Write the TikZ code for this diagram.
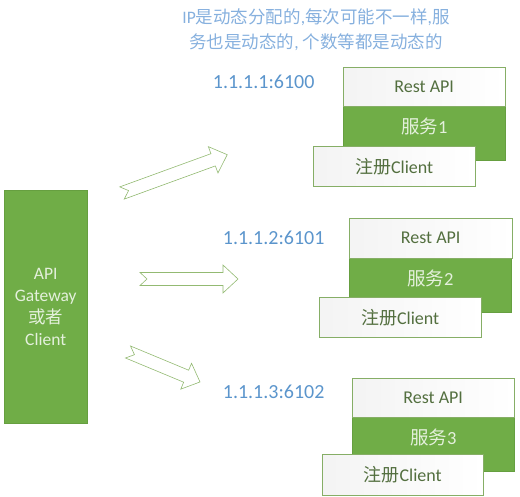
\documentclass[tikz,border=0pt]{standalone}
\usepackage{fontspec}
\setmainfont{Carlito}
\newfontfamily\cjk{Noto Sans CJK SC}
\usetikzlibrary{positioning,shadows}
\definecolor{leaf}{HTML}{70AD47}
\definecolor{leafline}{HTML}{669F40}
\definecolor{paleleaf}{HTML}{E4F0DC}
\definecolor{boxline}{HTML}{86AE66}
\definecolor{boxtext}{HTML}{536F3F}
\definecolor{ipblue}{HTML}{5B95CC}
\definecolor{noteblue}{HTML}{86B0DE}
\definecolor{arrowline}{HTML}{93BA72}
\tikzset{
  gatebox/.style={draw=leafline, fill=leaf, anchor=north west, inner sep=0pt,
    minimum width=83pt, minimum height=233pt, align=center, text=paleleaf,
    font=\fontsize{17.5}{22}\selectfont,
    drop shadow={opacity=0.12, shadow xshift=1.2pt, shadow yshift=-1.2pt}},
  svcbox/.style={draw=leafline, fill=leaf, anchor=north west, inner sep=0pt,
    minimum width=162pt, minimum height=54pt,
    drop shadow={opacity=0.12, shadow xshift=1.2pt, shadow yshift=-1.2pt}},
  svclabel/.style={anchor=center, yshift=-20pt, text=paleleaf,
    font=\fontsize{18.5}{22}\selectfont},
  whitebox/.style={draw=boxline, left color=gray!9, right color=white,
    anchor=north west, inner sep=0pt, minimum width=162pt, minimum height=40pt,
    text=boxtext, font=\fontsize{18}{22}\selectfont},
  iplabel/.style={anchor=east, text=ipblue, font=\fontsize{20}{24}\selectfont},
  notelabel/.style={text=noteblue, align=center, font=\fontsize{17.5}{25}\selectfont},
  pics/notcharrow/.style={code={
    \draw[arrowline, fill=white, line width=0.6pt, line join=miter]
      (0,-6.5) -- (#1-15,-6.5) -- (#1-15,-14) -- (#1,0) -- (#1-15,14)
      -- (#1-15,6.5) -- (0,6.5) -- (7,0) -- cycle;
  }},
}

\begin{document}
\begin{tikzpicture}[x=1pt, y=-1pt]
  \useasboundingbox (0,0) rectangle (520,497);
  % 说明
  \node[notelabel] (note) at (316,30)
    {IP{\cjk 是动态分配的},{\cjk 每次可能不一样},{\cjk 服}\\{\cjk 务也是动态的}, {\cjk 个数等都是动态的}};
  % 调用方
  \node[gatebox] (gate) at (4,190) {API\\Gateway\\{\cjk 或者}\\Client};
  % 箭头
  \pic[rotate=20] (arrowa) at (122,193) {notcharrow=112};
  \pic (arrowb) at (140,279) {notcharrow=98};
  \pic[rotate=-22.6] (arrowc) at (128,352) {notcharrow=78};
  % 服务1
  \node[svcbox, label={[svclabel]north:{\cjk 服务}1}] (svca) at (343,106) {};
  \node[whitebox, minimum height=39pt] (resta) at (343,67) {Rest API};
  \node[whitebox] (clienta) at (313,146) {{\cjk 注册}Client};
  \node[iplabel] (ipa) at (318,82) {1.1.1.1:6100};
  % 服务2
  \node[svcbox, label={[svclabel]north:{\cjk 服务}2}] (svcb) at (349,258) {};
  \node[whitebox, minimum width=163pt] (restb) at (349,218) {Rest API};
  \node[whitebox] (clientb) at (319,297) {{\cjk 注册}Client};
  \node[iplabel] (ipb) at (328,238) {1.1.1.2:6101};
  % 服务3
  \node[svcbox, label={[svclabel]north:{\cjk 服务}3}] (svcc) at (352,417) {};
  \node[whitebox, minimum height=39pt] (restc) at (352,378) {Rest API};
  \node[whitebox, minimum width=161pt, minimum height=41pt] (clientc) at (322,454) {{\cjk 注册}Client};
  \node[iplabel] (ipc) at (328,392) {1.1.1.3:6102};
\end{tikzpicture}
\end{document}
